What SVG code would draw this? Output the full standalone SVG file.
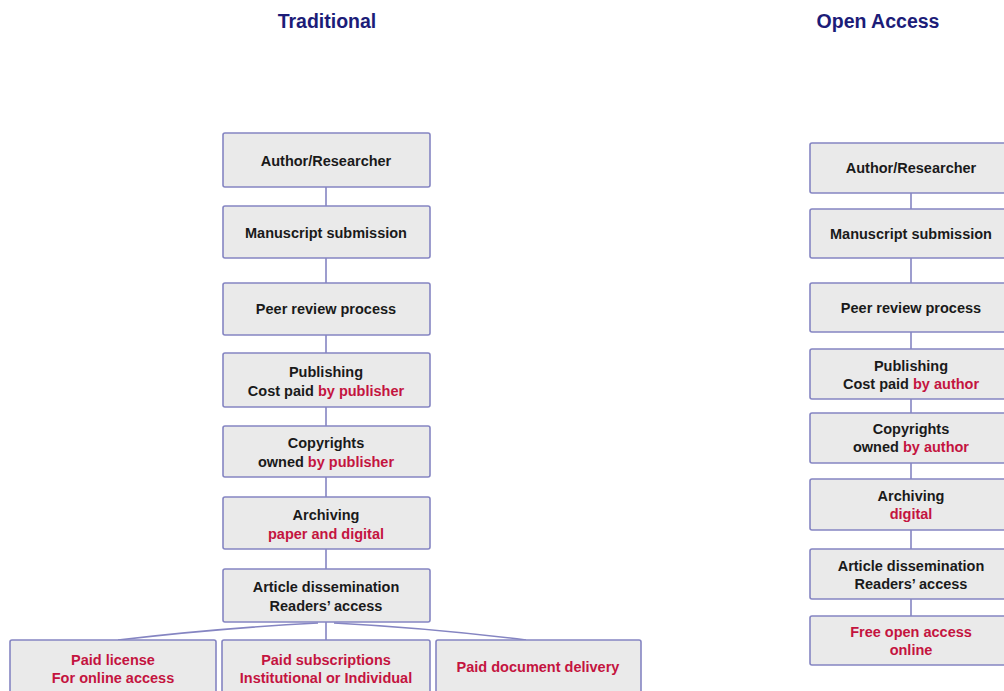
<svg xmlns="http://www.w3.org/2000/svg" width="1004" height="691" viewBox="0 0 1004 691">
<style>
.box{fill:#eaeaea;stroke:#8585c2;stroke-width:1.6}
.t{font-family:"Liberation Sans",Arial,sans-serif;font-weight:bold;font-size:14.5px;fill:#1a1a1a;text-anchor:middle}
.r{fill:#c4143f}
.h{font-family:"Liberation Sans",Arial,sans-serif;font-weight:bold;font-size:19.5px;fill:#1c1c78;text-anchor:middle}
.c{stroke:#8585c2;stroke-width:1.6;fill:none}
</style>
<rect width="1004" height="691" fill="#ffffff"/>
<text class="h" x="327" y="28">Traditional</text>
<text class="h" x="878" y="28">Open Access</text>
<g id="connectors">
<line class="c" x1="326" y1="187" x2="326" y2="206"/>
<line class="c" x1="326" y1="258" x2="326" y2="283"/>
<line class="c" x1="326" y1="335" x2="326" y2="353"/>
<line class="c" x1="326" y1="407" x2="326" y2="426"/>
<line class="c" x1="326" y1="477" x2="326" y2="497"/>
<line class="c" x1="326" y1="549" x2="326" y2="569"/>
<line class="c" x1="326" y1="622" x2="326" y2="640"/>
<path class="c" d="M318 623 Q220 628 118 640"/>
<path class="c" d="M334 623 Q430 628 526 640"/>
<line class="c" x1="911" y1="193" x2="911" y2="209"/>
<line class="c" x1="911" y1="258" x2="911" y2="283"/>
<line class="c" x1="911" y1="332" x2="911" y2="349"/>
<line class="c" x1="911" y1="399" x2="911" y2="413"/>
<line class="c" x1="911" y1="463" x2="911" y2="479"/>
<line class="c" x1="911" y1="530" x2="911" y2="549"/>
<line class="c" x1="911" y1="599" x2="911" y2="616"/>
</g>
<g id="t1"><rect class="box" x="223" y="133" width="207" height="54" rx="2"/><text class="t" x="326" y="166">Author/Researcher</text></g>
<g id="t2"><rect class="box" x="223" y="206" width="207" height="52" rx="2"/><text class="t" x="326" y="238">Manuscript submission</text></g>
<g id="t3"><rect class="box" x="223" y="283" width="207" height="52" rx="2"/><text class="t" x="326" y="314">Peer review process</text></g>
<g id="t4"><rect class="box" x="223" y="353" width="207" height="54" rx="2"/><text class="t" x="326" y="377">Publishing</text><text class="t" x="326" y="396">Cost paid <tspan class="r">by publisher</tspan></text></g>
<g id="t5"><rect class="box" x="223" y="426" width="207" height="51" rx="2"/><text class="t" x="326" y="448">Copyrights</text><text class="t" x="326" y="467">owned <tspan class="r">by publisher</tspan></text></g>
<g id="t6"><rect class="box" x="223" y="497" width="207" height="52" rx="2"/><text class="t" x="326" y="520">Archiving</text><text class="t r" x="326" y="539">paper and digital</text></g>
<g id="t7"><rect class="box" x="223" y="569" width="207" height="53" rx="2"/><text class="t" x="326" y="592">Article dissemination</text><text class="t" x="326" y="611">Readers’ access</text></g>
<g id="t8"><rect class="box" x="10" y="640" width="206" height="60" rx="2"/><text class="t r" x="113" y="665">Paid license</text><text class="t r" x="113" y="683">For online access</text></g>
<g id="t9"><rect class="box" x="222" y="640" width="208" height="60" rx="2"/><text class="t r" x="326" y="665">Paid subscriptions</text><text class="t r" x="326" y="683">Institutional or Individual</text></g>
<g id="t10"><rect class="box" x="436" y="640" width="205" height="60" rx="2"/><text class="t r" x="538" y="672">Paid document delivery</text></g>
<g id="o1"><rect class="box" x="810" y="143" width="204" height="50" rx="2"/><text class="t" x="911" y="173">Author/Researcher</text></g>
<g id="o2"><rect class="box" x="810" y="209" width="204" height="49" rx="2"/><text class="t" x="911" y="239">Manuscript submission</text></g>
<g id="o3"><rect class="box" x="810" y="283" width="204" height="49" rx="2"/><text class="t" x="911" y="313">Peer review process</text></g>
<g id="o4"><rect class="box" x="810" y="349" width="204" height="50" rx="2"/><text class="t" x="911" y="371">Publishing</text><text class="t" x="911" y="389">Cost paid <tspan class="r">by author</tspan></text></g>
<g id="o5"><rect class="box" x="810" y="413" width="204" height="50" rx="2"/><text class="t" x="911" y="434">Copyrights</text><text class="t" x="911" y="452">owned <tspan class="r">by author</tspan></text></g>
<g id="o6"><rect class="box" x="810" y="479" width="204" height="51" rx="2"/><text class="t" x="911" y="501">Archiving</text><text class="t r" x="911" y="519">digital</text></g>
<g id="o7"><rect class="box" x="810" y="549" width="204" height="50" rx="2"/><text class="t" x="911" y="571">Article dissemination</text><text class="t" x="911" y="589">Readers’ access</text></g>
<g id="o8"><rect class="box" x="810" y="616" width="204" height="49" rx="2"/><text class="t r" x="911" y="637">Free open access</text><text class="t r" x="911" y="655">online</text></g>
</svg>
